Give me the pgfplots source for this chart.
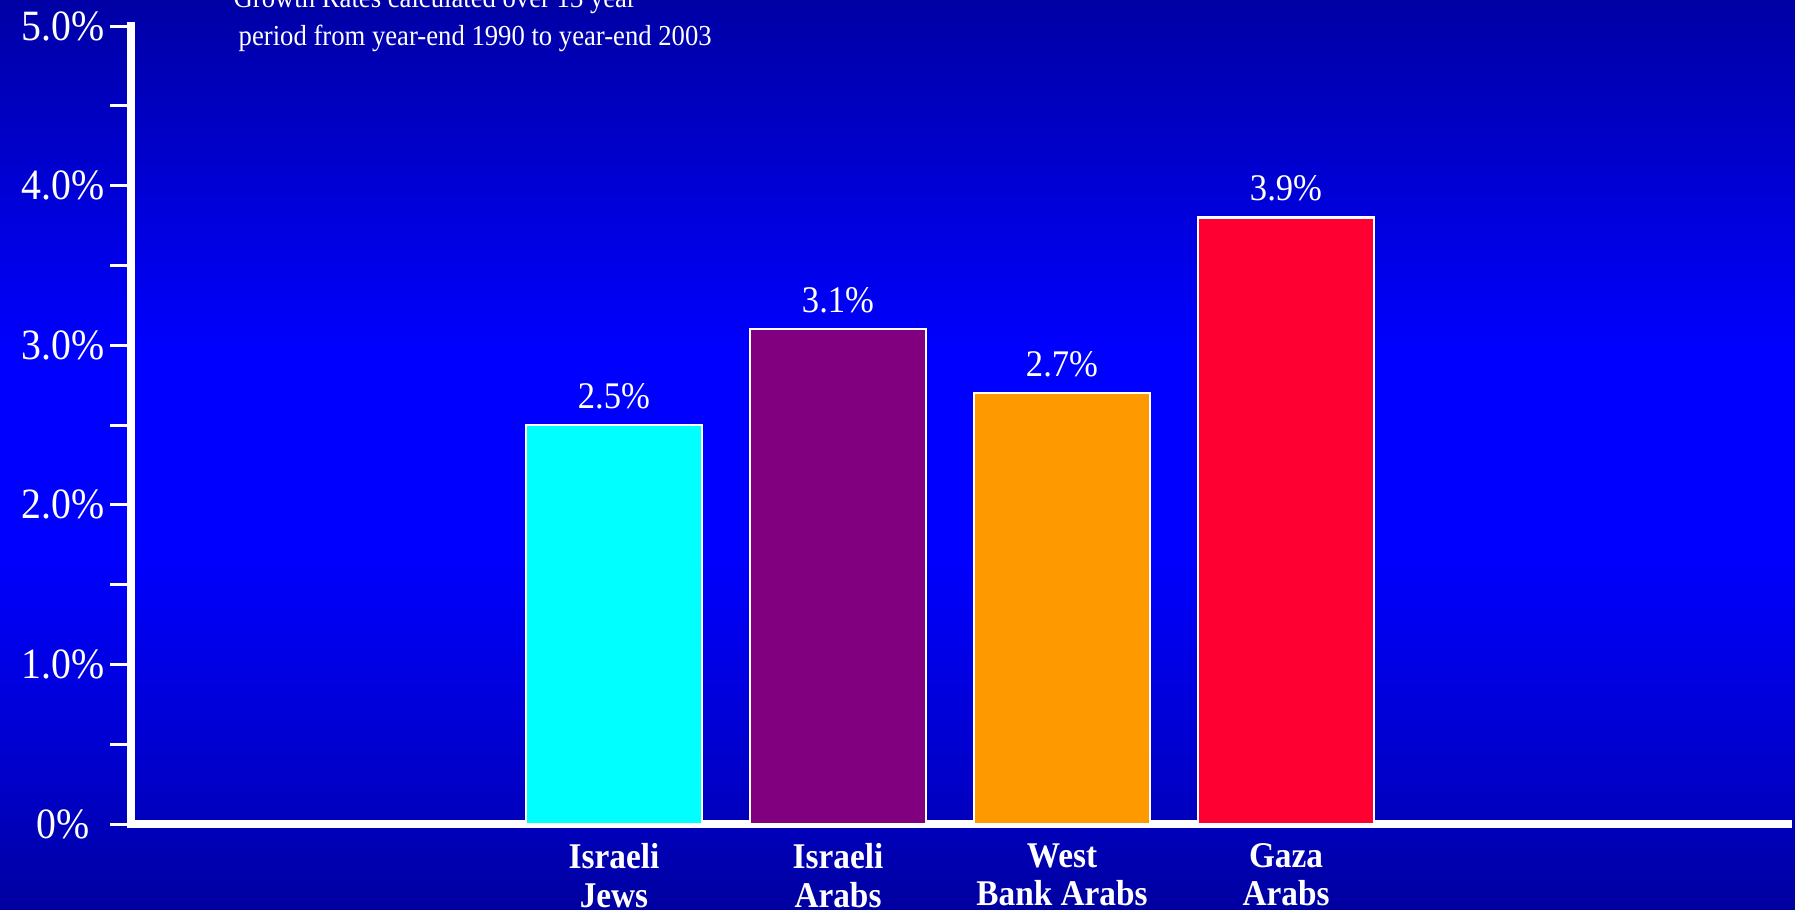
\documentclass[border=0pt]{standalone}
\usepackage{fontspec}
\setmainfont{Liberation Serif}[FakeStretch=0.92]
\usepackage{pgfplots}
\pgfplotsset{compat=1.18}
\definecolor{bg0}{RGB}{0,0,160}
\definecolor{bg1}{RGB}{0,0,200}
\definecolor{bg2}{RGB}{0,0,255}
\definecolor{bg3}{RGB}{0,0,195}
\definecolor{bg4}{RGB}{0,0,165}
\definecolor{barcyan}{RGB}{0,255,255}
\definecolor{barpurple}{RGB}{128,0,128}
\definecolor{barorange}{RGB}{255,153,0}
\definecolor{barred}{RGB}{255,0,51}
\pgfdeclareverticalshading{bgshade}{100bp}{color(0bp)=(bg0); color(25bp)=(bg0); color(32bp)=(bg1); color(44.7bp)=(bg2); color(55.7bp)=(bg2); color(68.4bp)=(bg3); color(75bp)=(bg4); color(100bp)=(bg4)}
\begin{document}
\begin{tikzpicture}
\useasboundingbox (0,0) rectangle (179.5mm,90.9mm);
\clip (0,0) rectangle (179.5mm,90.9mm);
\shade[shading=bgshade] (0,0) rectangle (179.5mm,90.9mm);
\begin{axis}[
  at={(13.1mm,8.5mm)}, anchor=south west,
  scale only axis, width=165.7mm, height=79.8mm,
  xmin=-2.156, xmax=5.241, ymin=0, ymax=5,
  axis x line*=bottom, axis y line*=left,
  axis line style={white, line width=0.8mm, line cap=rect},
  ybar, bar width=17.6mm,
  xtick={0,1,2,3},
  xticklabels={Israeli\\Jews, Israeli\\Arabs, West\\Bank Arabs, Gaza\\Arabs},
  x tick style={draw=none},
  xticklabel style={white, align=center, anchor=north, inner sep=0pt, yshift=0.2mm,
    font=\bfseries\fontsize{10.3}{10.9}\selectfont},
  ytick={0,1,2,3,4,5},
  yticklabels={0\%,1.0\%,2.0\%,3.0\%,4.0\%,5.0\%},
  minor ytick={0.5,1.5,2.5,3.5,4.5},
  y tick style={white, line width=0.3mm},
  tick align=outside, major tick length=2.1mm, minor tick length=2.1mm,
  yticklabel style={white, anchor=east, text width=10mm, align=center, inner sep=0pt,
    xshift=0.35mm, font=\fontsize{12.3}{14}\selectfont},
  /pgf/number format/assume math mode=true,
  point meta=explicit symbolic,
  nodes near coords,
  nodes near coords style={white, anchor=south, inner sep=0pt, yshift=1.5mm,
    font=\fontsize{10.7}{12}\selectfont},
  clip=false,
]
\addplot[fill=barcyan, draw=white, line width=0.25mm, bar shift=0pt] coordinates {(0,2.5) [2.5\%]};
\addplot[fill=barpurple, draw=white, line width=0.25mm, bar shift=0pt] coordinates {(1,3.1) [3.1\%]};
\addplot[fill=barorange, draw=white, line width=0.25mm, bar shift=0pt] coordinates {(2,2.7) [2.7\%]};
\addplot[fill=barred, draw=white, line width=0.25mm, bar shift=0pt] coordinates {(3,3.8) [3.9\%]};
\end{axis}
\node[anchor=base west, white, inner sep=0pt, font=\fontsize{8.25}{10}\selectfont] at (21.3mm,90.1mm) {* Growth Rates calculated over 13 year};
\node[anchor=base west, white, inner sep=0pt, font=\fontsize{8.25}{10}\selectfont] at (23.8mm,86.3mm) {period from year-end 1990 to year-end 2003};
\end{tikzpicture}
\end{document}
